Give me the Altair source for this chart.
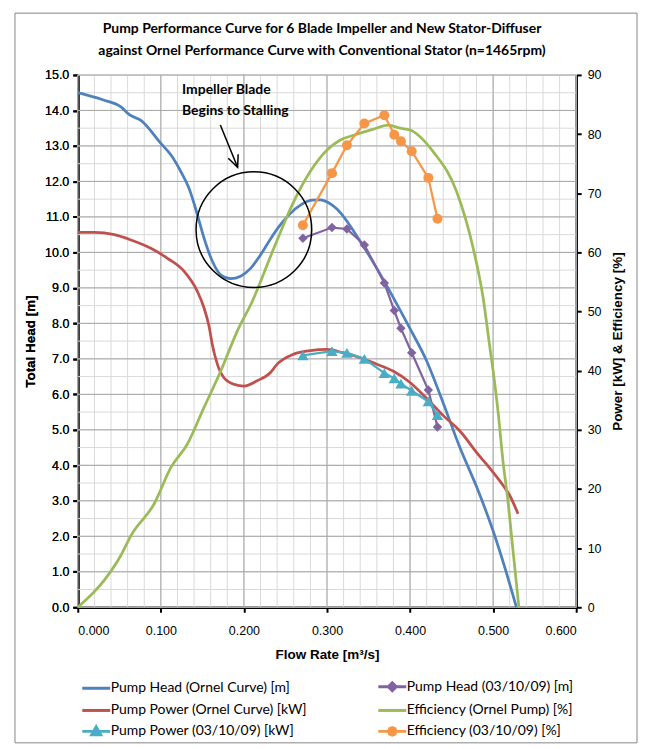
import altair as alt
import pandas as pd

SERIES = ["Pump Head (Ornel Curve) [m]", "Pump Head (03/10/09) [m]",
          "Pump Power (Ornel Curve) [kW]", "Efficiency (Ornel Pump) [%]",
          "Pump Power (03/10/09) [kW]", "Efficiency (03/10/09) [%]"]
COLORS = ["#4F81BD", "#8064A2", "#C0504D", "#9BBB59", "#4BACC6", "#F79646"]
# legend entries are laid out column by column: left column first, then right column
LEGEND_ORDER = [0, 2, 4, 1, 3, 5]

head_ornel_q = [0.000, 0.030, 0.052, 0.062, 0.076, 0.100, 0.112, 0.124, 0.134, 0.144, 0.152,
                0.162, 0.172, 0.184, 0.196, 0.208, 0.220, 0.232, 0.244, 0.256, 0.268, 0.282,
                0.292, 0.302, 0.312, 0.340, 0.360, 0.380, 0.400, 0.420, 0.440, 0.460, 0.480,
                0.500, 0.515, 0.528]
head_ornel_h = [14.50, 14.30, 14.10, 13.88, 13.72, 13.07, 12.75, 12.28, 11.80, 11.06, 10.40,
                9.75, 9.37, 9.26, 9.33, 9.55, 9.93, 10.38, 10.78, 11.10, 11.33, 11.47,
                11.48, 11.40, 11.22, 10.31, 9.55, 8.72, 7.85, 6.94, 5.75, 4.50, 3.40,
                2.15, 1.05, 0.00]

power_ornel_q = [0.000, 0.020, 0.044, 0.064, 0.088, 0.108, 0.128, 0.144, 0.152, 0.158, 0.162,
                 0.168, 0.176, 0.188, 0.200, 0.216, 0.232, 0.240, 0.260, 0.280, 0.300, 0.320,
                 0.340, 0.360, 0.380, 0.400, 0.420, 0.440, 0.460, 0.480, 0.500, 0.512, 0.520, 0.530]
power_ornel_p = [63.4, 63.4, 63.0, 62.1, 60.7, 59.0, 56.8, 53.4, 50.6, 47.5, 44.4,
                 41.1, 38.8, 37.7, 37.4, 38.3, 39.7, 41.1, 42.8, 43.4, 43.6, 43.0,
                 42.2, 41.1, 39.9, 38.0, 35.3, 32.4, 29.8, 26.2, 22.8, 20.6, 18.9, 15.8]

eff_ornel_q = [0.000, 0.032, 0.052, 0.064, 0.092, 0.112, 0.132, 0.152, 0.172, 0.192, 0.210,
               0.236, 0.260, 0.280, 0.300, 0.316, 0.332, 0.355, 0.374, 0.388, 0.400, 0.428,
               0.456, 0.476, 0.488, 0.496, 0.500, 0.506, 0.512, 0.517, 0.524, 0.531]
eff_ornel_e = [0.0, 4.6, 8.8, 12.1, 17.5, 23.6, 27.6, 33.8, 39.9, 46.7, 51.7,
               60.7, 68.6, 73.7, 77.3, 79.0, 79.8, 80.8, 81.5, 81.0, 80.7, 77.0,
               70.3, 60.7, 52.3, 44.0, 40.0, 33.0, 24.5, 19.0, 9.5, 0.0]

meas_q = [0.271, 0.306, 0.324, 0.345, 0.369, 0.381, 0.389, 0.402, 0.422, 0.433]
meas_head = [10.40, 10.70, 10.66, 10.21, 9.14, 8.36, 7.86, 7.17, 6.12, 5.08]
meas_power = [42.6, 43.3, 43.0, 42.0, 39.6, 38.7, 37.8, 36.6, 34.8, 32.5]
meas_eff = [64.6, 73.4, 78.1, 81.8, 83.2, 79.9, 78.8, 77.1, 72.6, 65.7]

x_major = [0.0, 0.1, 0.2, 0.3, 0.4, 0.5, 0.6]
x_minor = [round(i * 0.02, 2) for i in range(31)]
y_major = [float(i) for i in range(16)]
y_minor = [i * 0.5 for i in range(31)]
y_right_ticks = [i * 10 for i in range(10)]

TITLE = ["Pump Performance Curve for 6 Blade Impeller and New Stator-Diffuser",
         "against Ornel Performance Curve with Conventional Stator (n=1465rpm)"]
NOTE = "Impeller Blade\nBegins to Stalling"

FONT = "Lato"


def frame(q, v, s):
    return pd.DataFrame({"q": q, "v": v, "series": s})


head_ornel = frame(head_ornel_q, head_ornel_h, SERIES[0])
head_meas = frame(meas_q, meas_head, SERIES[1])
power_ornel = frame(power_ornel_q, power_ornel_p, SERIES[2])
eff_ornel = frame(eff_ornel_q, eff_ornel_e, SERIES[3])
power_meas = frame(meas_q, meas_power, SERIES[4])
eff_meas = frame(meas_q, meas_eff, SERIES[5])

xs = alt.Scale(domain=[0, 0.6], nice=False, zero=False)
yl = alt.Scale(domain=[0, 15], nice=False)
yr = alt.Scale(domain=[0, 90], nice=False)
# scale for the marks (listed in reverse so it is kept apart from the legend's scales)
cs_marks = alt.Scale(domain=SERIES[::-1], range=COLORS[::-1])

# legend symbols: a line with the series marker in its middle
line_p = "M-1.4,0L1.4,0"
diamond_p = line_p + "M-0.4,0L0,-0.4L0.4,0L0,0.4Z"
tri_p = line_p + "M0,-0.45L0.45,0.35L-0.45,0.35Z"
circ_p = line_p + ("M-0.38,0L-0.27,-0.27L0,-0.38L0.27,-0.27L0.38,0L0.27,0.27L0,0.38"
                   "L-0.27,0.27Z")
SYMBOLS = [line_p, diamond_p, line_p, line_p, tri_p, circ_p]

leg_domain = [SERIES[i] for i in LEGEND_ORDER]
cs_leg = alt.Scale(domain=leg_domain, range=[COLORS[i] for i in LEGEND_ORDER])
shape_scale = alt.Scale(domain=leg_domain, range=[SYMBOLS[i] for i in LEGEND_ORDER])

x_axis = alt.Axis(title="Flow Rate [m³/s]", values=x_major, format=".3f", grid=False,
                  domainColor="black", domainWidth=2.5, tickColor="black", tickWidth=2,
                  tickSize=5, labelPadding=12, titlePadding=11, labelFontSize=12.5,
                  titleFontSize=13.5)
yl_axis = alt.Axis(title="Total Head [m]", values=y_major, format=".1f", grid=False,
                   domainColor="black", domainWidth=2.5, tickColor="black", tickWidth=2,
                   tickSize=5, labelPadding=4, titlePadding=7, labelFontSize=12.5,
                   titleFontSize=13.5)
yr_axis = alt.Axis(title="Power [kW] & Efficiency [%]", orient="right", values=y_right_ticks,
                   format="d", grid=False, domainColor="black", domainWidth=2.5,
                   tickColor="black", tickWidth=2, tickSize=5, labelPadding=6,
                   titlePadding=10, titleAngle=270, titleBaseline="top", labelFontSize=12.5,
                   titleFontSize=13.5)

X = alt.X("q:Q", scale=xs, axis=x_axis)
YL = alt.Y("v:Q", scale=yl, axis=yl_axis)
YR = alt.Y("v:Q", scale=yr, axis=yr_axis)
C = alt.Color("series:N", scale=cs_marks, legend=None)

# grid lines
g_xmin = alt.Chart(pd.DataFrame({"q": x_minor})).mark_rule(color="#D9D9D9", strokeWidth=1).encode(x=X)
g_ymin = alt.Chart(pd.DataFrame({"v": y_minor})).mark_rule(color="#D9D9D9", strokeWidth=1).encode(y=YL)
g_xmaj = alt.Chart(pd.DataFrame({"q": x_major})).mark_rule(color="#A6A6A6", strokeWidth=1).encode(x=X)
g_ymaj = alt.Chart(pd.DataFrame({"v": y_major})).mark_rule(color="#A6A6A6", strokeWidth=1).encode(y=YL)

border = alt.Chart(pd.DataFrame({"a": [0]})).mark_rect(
    fillOpacity=0, stroke="#868686", strokeWidth=1).encode(
    x=alt.value(-63), x2=alt.value(561), y=alt.value(-62), y2=alt.value(670))

l_head_ornel = alt.Chart(head_ornel).mark_line(strokeWidth=2.75, interpolate="monotone").encode(x=X, y=YL, color=C)
l_head_meas = alt.Chart(head_meas).mark_line(strokeWidth=2.25).encode(x=X, y=YL, color=C)
p_head_meas = alt.Chart(head_meas).mark_point(shape="diamond", size=90, filled=True, opacity=1).encode(x=X, y=YL, color=C)

# annotation
circle_df = pd.DataFrame({"q": [0.2120], "v": [10.64]})
ann_circle = alt.Chart(circle_df).mark_point(shape="circle", size=13456, filled=False,
                                             color="black", strokeWidth=1.5, opacity=1).encode(x=X, y=YL)
arrow_df = pd.DataFrame({"q": [0.1716], "v": [13.59], "q2": [0.1924], "v2": [12.40]})
ann_arrow = alt.Chart(arrow_df).mark_rule(color="black", strokeWidth=1.5).encode(
    x=X, y=YL, x2="q2:Q", y2="v2:Q")
ann_head = alt.Chart(pd.DataFrame({"q": [0.1924], "v": [12.40]})).mark_point(
    shape="M-0.5,-1.1L0,0L0.5,-1.1", size=460, filled=False, color="black", strokeWidth=1.5,
    opacity=1, angle=338).encode(x=X, y=YL)
ann_text = alt.Chart(pd.DataFrame({"q": [0.1255], "v": [14.78], "t": [NOTE]})).mark_text(
    lineBreak="\n", align="left", baseline="top", fontWeight="bold", fontSize=14, font=FONT,
    lineHeight=21, color="black").encode(x=X, y=YL, text="t:N")

leg = alt.Legend(title=None, orient="none", legendX=7, legendY=602, columns=2,
                 columnPadding=64, rowPadding=2, symbolSize=400, labelFont=FONT,
                 labelFontSize=14, labelColor="black", labelOffset=3, labelLimit=400,
                 symbolStrokeWidth=3, symbolOpacity=1, padding=0)
legend_df = pd.DataFrame({"series": leg_domain, "q": [0.0] * 6, "v": [0.0] * 6})
legend_layer = alt.Chart(legend_df).mark_point(filled=True, opacity=0, size=0).encode(
    x=X, y=YL,
    fill=alt.Fill("series:N", scale=cs_leg, legend=leg),
    stroke=alt.Stroke("series:N", scale=cs_leg, legend=leg),
    shape=alt.Shape("series:N", scale=shape_scale, legend=leg))

left = alt.layer(g_xmin, g_ymin, g_xmaj, g_ymaj, border, l_head_ornel, l_head_meas, p_head_meas,
                 legend_layer)

l_power_ornel = alt.Chart(power_ornel).mark_line(strokeWidth=2.75, interpolate="monotone").encode(x=X, y=YR, color=C)
l_eff_ornel = alt.Chart(eff_ornel).mark_line(strokeWidth=2.75, interpolate="monotone").encode(x=X, y=YR, color=C)
l_power_meas = alt.Chart(power_meas).mark_line(strokeWidth=2.25).encode(x=X, y=YR, color=C)
p_power_meas = alt.Chart(power_meas).mark_point(shape="triangle-up", size=130, filled=True, opacity=1).encode(x=X, y=YR, color=C)
l_eff_meas = alt.Chart(eff_meas).mark_line(strokeWidth=2.25).encode(x=X, y=YR, color=C)
p_eff_meas = alt.Chart(eff_meas).mark_point(shape="circle", size=100, filled=True, opacity=1).encode(x=X, y=YR, color=C)

right = alt.layer(l_power_ornel, l_eff_ornel, l_power_meas, p_power_meas, l_eff_meas, p_eff_meas)

annot = alt.layer(ann_circle, ann_arrow, ann_head, ann_text)

chart = alt.layer(left, right, annot).resolve_scale(y="independent").properties(
    width=500, height=534,
    padding={"left": 6, "top": 3, "right": 1, "bottom": 1},
    title=alt.TitleParams(text=TITLE, font=FONT, fontSize=14, fontWeight="bold", color="black",
                          anchor="middle", frame="group", offset=-45, lineHeight=22, dx=-5),
).configure_view(stroke=None).configure_axis(
    labelFont=FONT, titleFont=FONT, labelColor="black", titleColor="black",
    titleFontWeight="bold"
).configure(background="white")

chart.save("out.html", embed_options={"renderer": "svg", "actions": False})
